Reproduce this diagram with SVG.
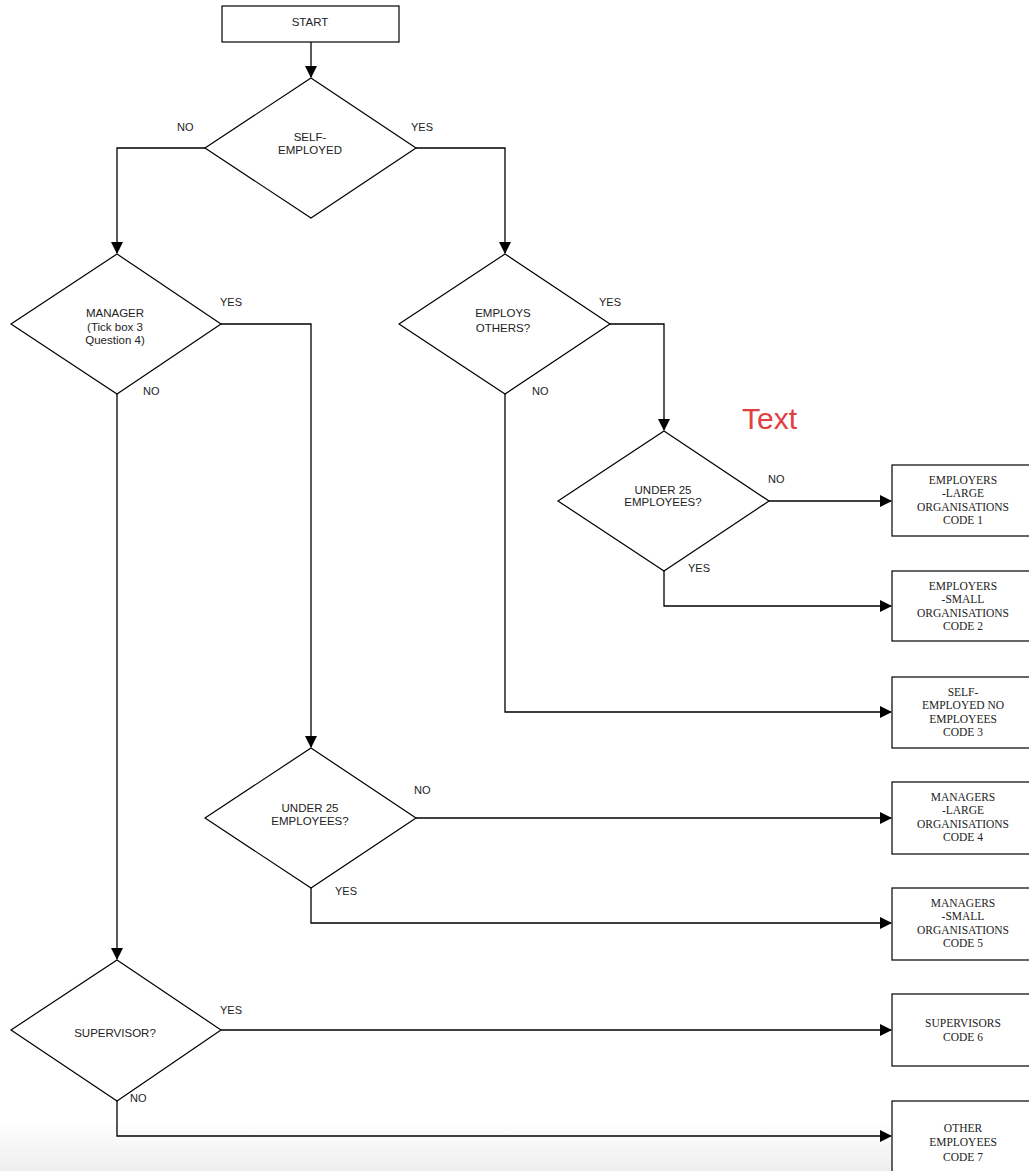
<svg xmlns="http://www.w3.org/2000/svg" width="1029" height="1171" viewBox="0 0 1029 1171">
<defs>
<marker id="ah" markerWidth="12" markerHeight="12" refX="11" refY="6" orient="auto" markerUnits="userSpaceOnUse">
<path d="M0,0 L12,6 L0,12 Z" fill="#000"/>
</marker>
<linearGradient id="fade" x1="0" y1="0" x2="0" y2="1">
<stop offset="0" stop-color="#ffffff"/>
<stop offset="1" stop-color="#eeeeee"/>
</linearGradient>
<style>
.shape{fill:#fff;stroke:#000;stroke-width:1.2}
.conn{fill:none;stroke:#000;stroke-width:1.3}
.dt{font-family:"Liberation Sans",Arial,sans-serif;font-size:11.5px;fill:#222;text-anchor:middle}
.lbl{font-family:"Liberation Sans",Arial,sans-serif;font-size:11px;fill:#222}
.bt{font-family:"Liberation Serif","Times New Roman",serif;font-size:11.5px;fill:#222;text-anchor:middle}
</style>
</defs>
<rect x="0" y="0" width="1029" height="1171" fill="#fff"/>
<rect x="0" y="1120" width="1029" height="51" fill="url(#fade)"/>

<g id="connectors">
<path class="conn" d="M311,42 V77" marker-end="url(#ah)"/>
<path class="conn" d="M205,148 H117 V253" marker-end="url(#ah)"/>
<path class="conn" d="M416,148 H505 V253" marker-end="url(#ah)"/>
<path class="conn" d="M610,324 H664 V430" marker-end="url(#ah)"/>
<path class="conn" d="M769,501 H891" marker-end="url(#ah)"/>
<path class="conn" d="M664,571 V606 H891" marker-end="url(#ah)"/>
<path class="conn" d="M505,394 V712 H891" marker-end="url(#ah)"/>
<path class="conn" d="M221,324 H311 V747" marker-end="url(#ah)"/>
<path class="conn" d="M416,818 H891" marker-end="url(#ah)"/>
<path class="conn" d="M311,888 V923 H891" marker-end="url(#ah)"/>
<path class="conn" d="M117,394 V959" marker-end="url(#ah)"/>
<path class="conn" d="M221,1030 H891" marker-end="url(#ah)"/>
<path class="conn" d="M117,1101 V1136 H891" marker-end="url(#ah)"/>
</g>

<g id="labels">
<text class="lbl" x="177" y="131">NO</text>
<text class="lbl" x="411" y="131">YES</text>
<text class="lbl" x="220" y="306">YES</text>
<text class="lbl" x="143" y="395">NO</text>
<text class="lbl" x="599" y="306">YES</text>
<text class="lbl" x="532" y="395">NO</text>
<text class="lbl" x="768" y="483">NO</text>
<text class="lbl" x="688" y="572">YES</text>
<text class="lbl" x="414" y="794">NO</text>
<text class="lbl" x="335" y="895">YES</text>
<text class="lbl" x="220" y="1014">YES</text>
<text class="lbl" x="130" y="1102">NO</text>
<text x="742" y="429" font-family="Liberation Sans, Arial, sans-serif" font-size="30" fill="#e04040">Text</text>
</g>

<g id="start">
<rect class="shape" x="222" y="6" width="177" height="36"/>
<text class="dt" x="310" y="26">START</text>
</g>

<g id="self-employed">
<polygon class="shape" points="311,78 416,148 311,218 205,148"/>
<text class="dt" x="310" y="141">SELF-</text>
<text class="dt" x="310" y="154">EMPLOYED</text>
</g>

<g id="manager">
<polygon class="shape" points="117,254 221,324 117,394 11,324"/>
<text class="dt" x="115" y="317">MANAGER</text>
<text class="dt" x="115" y="331">(Tick box 3</text>
<text class="dt" x="115" y="344">Question 4)</text>
</g>

<g id="employs-others">
<polygon class="shape" points="505,254 610,324 505,394 399,324"/>
<text class="dt" x="503" y="317">EMPLOYS</text>
<text class="dt" x="503" y="332">OTHERS?</text>
</g>

<g id="under25-employers">
<polygon class="shape" points="664,431 769,501 664,571 558,501"/>
<text class="dt" x="663" y="494">UNDER 25</text>
<text class="dt" x="663" y="506">EMPLOYEES?</text>
</g>

<g id="under25-managers">
<polygon class="shape" points="311,748 416,818 311,888 205,818"/>
<text class="dt" x="310" y="812">UNDER 25</text>
<text class="dt" x="310" y="825">EMPLOYEES?</text>
</g>

<g id="supervisor">
<polygon class="shape" points="117,960 221,1030 117,1101 11,1030"/>
<text class="dt" x="115" y="1037">SUPERVISOR?</text>
</g>

<g id="code1">
<rect class="shape" x="892" y="465" width="145" height="71"/>
<text class="bt" x="963" y="484">EMPLOYERS</text>
<text class="bt" x="963" y="497">-LARGE</text>
<text class="bt" x="963" y="511">ORGANISATIONS</text>
<text class="bt" x="963" y="524">CODE 1</text>
</g>

<g id="code2">
<rect class="shape" x="892" y="571" width="145" height="70"/>
<text class="bt" x="963" y="590">EMPLOYERS</text>
<text class="bt" x="963" y="603">-SMALL</text>
<text class="bt" x="963" y="617">ORGANISATIONS</text>
<text class="bt" x="963" y="630">CODE 2</text>
</g>

<g id="code3">
<rect class="shape" x="892" y="677" width="145" height="71"/>
<text class="bt" x="963" y="696">SELF-</text>
<text class="bt" x="963" y="709">EMPLOYED NO</text>
<text class="bt" x="963" y="723">EMPLOYEES</text>
<text class="bt" x="963" y="736">CODE 3</text>
</g>

<g id="code4">
<rect class="shape" x="892" y="782" width="145" height="72"/>
<text class="bt" x="963" y="801">MANAGERS</text>
<text class="bt" x="963" y="814">-LARGE</text>
<text class="bt" x="963" y="828">ORGANISATIONS</text>
<text class="bt" x="963" y="841">CODE 4</text>
</g>

<g id="code5">
<rect class="shape" x="892" y="888" width="145" height="72"/>
<text class="bt" x="963" y="907">MANAGERS</text>
<text class="bt" x="963" y="920">-SMALL</text>
<text class="bt" x="963" y="934">ORGANISATIONS</text>
<text class="bt" x="963" y="947">CODE 5</text>
</g>

<g id="code6">
<rect class="shape" x="892" y="994" width="145" height="72"/>
<text class="bt" x="963" y="1027">SUPERVISORS</text>
<text class="bt" x="963" y="1041">CODE 6</text>
</g>

<g id="code7">
<rect class="shape" x="892" y="1101" width="145" height="80"/>
<text class="bt" x="963" y="1132">OTHER</text>
<text class="bt" x="963" y="1146">EMPLOYEES</text>
<text class="bt" x="963" y="1161">CODE 7</text>
</g>
</svg>
